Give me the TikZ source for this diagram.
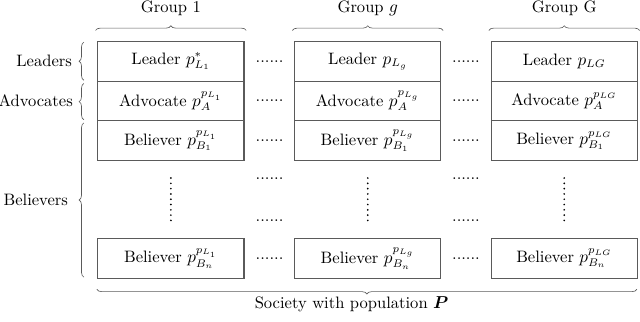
\documentclass[tikz,border=0pt]{standalone}
\usepackage{amsmath,amssymb}
\usepackage{tikz}
\usetikzlibrary{decorations.pathreplacing,positioning}
\definecolor{BoxGray}{HTML}{5A5A5A}

\begin{document}
\begin{tikzpicture}[font=\fontsize{10.5pt}{12.6pt}\selectfont,
    cell/.style={draw=BoxGray,line width=.7pt,minimum width=3.26cm,minimum height=.885cm,inner sep=0pt},
    hbrace/.style={draw=BoxGray,decorate,decoration={brace,amplitude=3pt}},
    dotrow/.style={inner sep=0pt},
    role/.style={anchor=east,inner sep=0pt}]
        \useasboundingbox (0,0) rectangle (14.27,-7.16);
        % the three groups
        \foreach \x/\grp/\lead/\sup [count=\i] in {3.81/1/{p^*_{L_1}}/{p_{L_1}},8.20/$g$/{p_{L_g}}/{p_{L_g}},12.58/G/{p_{LG}}/{p_{LG}}}{
          \node[cell] (L\i) at (\x,-1.365) {Leader $\lead$};
          \node[cell] (A\i) at (\x,-2.25) {Advocate $p_A^{\sup}$};
          \node[cell] (B\i) at (\x,-3.135) {Believer $p_{B_1}^{\sup}$};
          \node[cell] (N\i) at (\x,-5.765) {Believer $p_{B_n}^{\sup}$};
          \draw[line width=1.2pt,dash pattern=on 0pt off 3.36pt,line cap=round] (\x,-3.97) -- (\x,-4.92);
          \draw[hbrace] (\x-1.68,-.68) -- (\x+1.68,-.68);
          \node[anchor=base] (G\i) at (\x,-.27) {Group \grp};
        }
        % dots between the groups
        \foreach \x in {6.01,10.39}
          \foreach \y in {-1.365,-2.25,-3.135,-3.99,-4.91,-5.765}
            \node[dotrow] at (\x,\y) {......};
        % roles on the left
        \draw[hbrace] (1.87,-1.79) -- (1.87,-.94);
        \draw[hbrace] (1.87,-2.67) -- (1.87,-1.86);
        \draw[hbrace] (1.87,-6.18) -- (1.87,-2.74);
        \node[role] (lead) at (1.61,-1.365) {Leaders};
        \node[role] (adv) at (1.63,-2.25) {Advocates};
        \node[role] (bel) at (1.52,-4.46) {Believers};
        % whole society
        \draw[hbrace] (14.2,-6.45) -- (2.16,-6.45);
        \node[anchor=base] (soc) at (7.84,-6.87) {Society with population $\boldsymbol{P}$};
      \end{tikzpicture}
\end{document}
